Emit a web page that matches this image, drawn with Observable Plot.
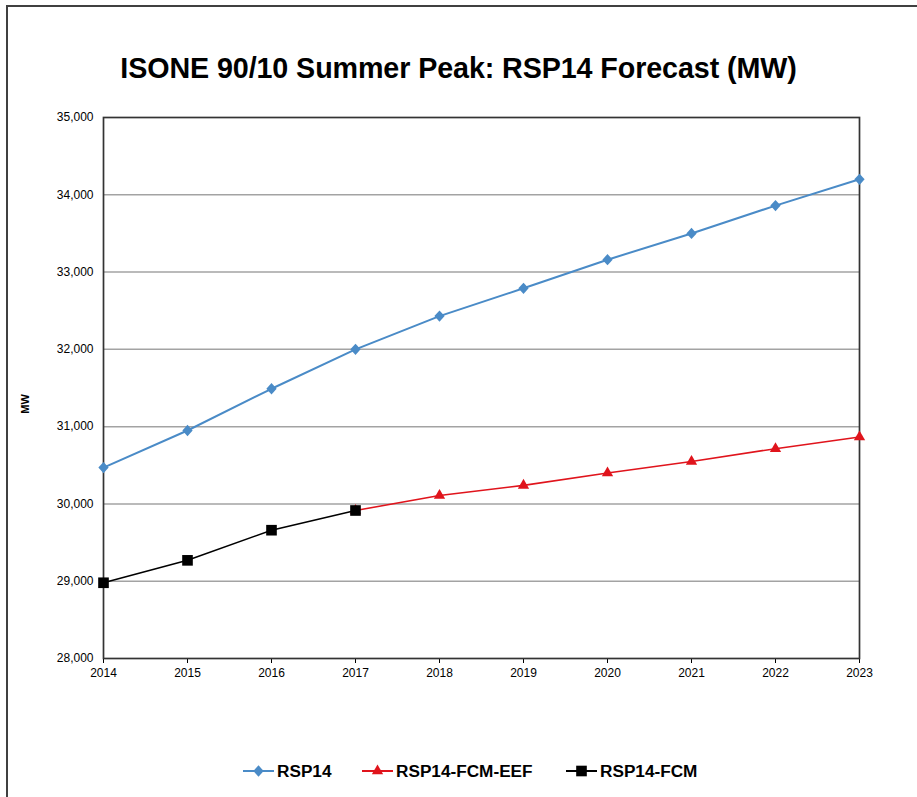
<!DOCTYPE html>
<html>
<head>
<meta charset="utf-8">
<script src="https://cdn.jsdelivr.net/npm/d3@7"></script>
<script src="https://cdn.jsdelivr.net/npm/@observablehq/plot@0.6"></script>
<style>
  html, body { margin: 0; padding: 0; background: #fff; }
  #page { position: relative; width: 917px; height: 797px; overflow: hidden; font-family: "Liberation Sans", Arial, sans-serif; }
  #border { position: absolute; left: 6px; top: 5px; width: 940px; height: 820px; border-left: 2px solid #404040; border-top: 2px solid #404040; }
  #title { position: absolute; left: 0; top: 54px; width: 917px; text-align: center; font-weight: bold; font-size: 28.7px; line-height: 29px; color: #000; letter-spacing: -0.1px; }
  #ylabel { position: absolute; left: 25px; top: 404px; transform: translate(-50%, -50%) rotate(-90deg); font-weight: bold; font-size: 11px; color: #000; white-space: nowrap; }
  #chart { position: absolute; left: 0; top: 100px; }
  #legend { position: absolute; left: 0; top: 750px; }
</style>
</head>
<body>
<div id="page">
  <div id="border"></div>
  <div id="title">ISONE 90/10 Summer Peak: RSP14 Forecast (MW)</div>
  <div id="ylabel">MW</div>
  <div id="chart"></div>
  <svg id="legend" width="917" height="42"></svg>
</div>
<script>
// ---- data ----
const years = [2014, 2015, 2016, 2017, 2018, 2019, 2020, 2021, 2022, 2023];
const rsp14 = [30470, 30950, 31490, 32000, 32430, 32790, 33160, 33500, 33860, 34200];
const fcmYears = [2014, 2015, 2016, 2017];
const rsp14Fcm = [28980, 29270, 29660, 29915];
const eefYears = [2017, 2018, 2019, 2020, 2021, 2022, 2023];
const rsp14FcmEef = [29915, 30110, 30240, 30400, 30550, 30715, 30865];
const yTicks = [28000, 29000, 30000, 31000, 32000, 33000, 34000, 35000];
const seriesNames = ["RSP14", "RSP14-FCM-EEF", "RSP14-FCM"];

// ---- styles ----
const BLUE = "#4a8bc7", RED = "#e0141c", BLACK = "#000000";
const R_DIAMOND = 4.1, R_TRIANGLE = 4.2, R_SQUARE = 6;

const diamondSym = {
  draw(ctx, size) {
    const a = Math.sqrt(size / 2);
    ctx.moveTo(0, -a * 1.1);
    ctx.lineTo(a, 0);
    ctx.lineTo(0, a * 1.1);
    ctx.lineTo(-a, 0);
    ctx.closePath();
  }
};

const blueData = years.map((y, i) => ({year: y, value: rsp14[i]}));
const fcmData = fcmYears.map((y, i) => ({year: y, value: rsp14Fcm[i]}));
const eefData = eefYears.map((y, i) => ({year: y, value: rsp14FcmEef[i]}));

const chart = Plot.plot({
  width: 917,
  height: 600,
  marginLeft: 103,
  marginRight: 58,
  marginTop: 17,
  marginBottom: 42,
  style: {fontFamily: "'Liberation Sans', Arial, sans-serif", fontSize: "12px", color: "#000", background: "transparent"},
  x: {domain: [2014, 2023], ticks: years, tickFormat: d => String(d), tickSize: 5, tickPadding: 5, label: null},
  y: {domain: [28000, 35000], ticks: yTicks, tickFormat: d3.format(","), tickSize: 0, tickPadding: 10, label: null},
  marks: [
    Plot.gridY(yTicks.slice(1, -1), {stroke: "#a3a3a3", strokeOpacity: 1, strokeWidth: 1.5}),
    Plot.frame({stroke: "#333333", strokeWidth: 1.7}),
    Plot.line(eefData, {x: "year", y: "value", stroke: RED, strokeWidth: 1.6}),
    Plot.dot(eefData, {x: "year", y: "value", symbol: "triangle", r: R_TRIANGLE, fill: RED, stroke: "none"}),
    Plot.line(fcmData, {x: "year", y: "value", stroke: BLACK, strokeWidth: 1.6}),
    Plot.dot(fcmData, {x: "year", y: "value", symbol: "square", r: R_SQUARE, fill: BLACK, stroke: "none"}),
    Plot.line(blueData, {x: "year", y: "value", stroke: BLUE, strokeWidth: 2}),
    Plot.dot(blueData, {x: "year", y: "value", symbol: diamondSym, r: R_DIAMOND, fill: BLUE, stroke: "none"})
  ]
});
document.getElementById("chart").appendChild(chart);

// ---- legend ----
const legend = d3.select("#legend");
const items = [
  {name: seriesNames[0], color: BLUE, sym: diamondSym, size: Math.PI * R_DIAMOND ** 2, x0: 243},
  {name: seriesNames[1], color: RED, sym: d3.symbolTriangle, size: Math.PI * R_TRIANGLE ** 2, x0: 362},
  {name: seriesNames[2], color: BLACK, sym: d3.symbolSquare, size: Math.PI * R_SQUARE ** 2, x0: 566}
];
const cy = 21;
items.forEach(it => {
  const g = legend.append("g");
  g.append("line").attr("x1", it.x0).attr("x2", it.x0 + 31).attr("y1", cy).attr("y2", cy)
    .attr("stroke", it.color).attr("stroke-width", 2);
  g.append("path").attr("d", d3.symbol(it.sym, it.size)()).attr("transform", `translate(${it.x0 + 15.5},${cy})`)
    .attr("fill", it.color);
  g.append("text").attr("x", it.x0 + 34).attr("y", cy + 6.2)
    .attr("font-family", "'Liberation Sans', Arial, sans-serif").attr("font-weight", "bold").attr("font-size", 17.2)
    .attr("fill", "#000").text(it.name);
});
</script>
</body>
</html>
